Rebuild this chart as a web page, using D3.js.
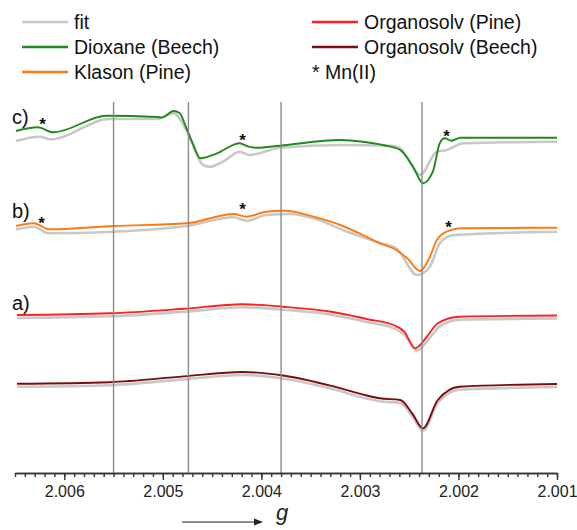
<!DOCTYPE html>
<html><head><meta charset="utf-8">
<script src="https://cdn.jsdelivr.net/npm/d3@7"></script>
<style>body{margin:0;background:#fff}svg{display:block}text{font-family:"Liberation Sans",Arial,sans-serif}</style>
</head><body>
<script>
// g-values (x) and relative EPR intensities (arbitrary units, stacked with offsets)
const dioxaneBeech = [[2.00649,344],[2.00627,347.7],[2.00611,342.7],[2.00557,359.3],[2.00506,358],[2.00501,357.5],[2.00489,364],[2.00483,362],[2.00476,346.7],[2.00469,330],[2.00462,316.7],[2.00445,321.7],[2.00422,331.7],[2.00413,328.3],[2.00405,327.3],[2.00381,329.3],[2.0032,335],[2.00297,333.3],[2.00269,328.3],[2.00259,325],[2.00246,308.3],[2.00236,291.7],[2.00226,303.3],[2.00219,331.7],[2.00214,336.7],[2.00207,334.3],[2.00198,337.3],[2.0010,337.3]];
const dioxaneFit = [[2.00649,334],[2.00625,338.3],[2.00614,335.7],[2.00554,356],[2.00506,356],[2.00489,361.7],[2.00476,345],[2.00459,310],[2.00452,308.3],[2.00439,313.3],[2.00422,323.3],[2.00412,320],[2.00381,327.3],[2.0032,330],[2.00269,329.3],[2.00259,326.7],[2.00239,300],[2.00222,323.3],[2.00212,325],[2.00195,331.7],[2.0010,333.3]];
const klasonPine = [[2.00649,249],[2.00631,251.7],[2.00621,247.7],[2.00616,245.7],[2.0055,249],[2.00476,251.7],[2.00428,261],[2.00415,258.3],[2.00395,263.3],[2.00376,264.3],[2.00347,258.3],[2.0032,250],[2.00297,240],[2.0028,231.7],[2.00263,225],[2.00252,216.7],[2.00239,204],[2.00229,218.3],[2.00222,235],[2.00212,243.3],[2.00198,246.7],[2.0010,247.3]];
const klasonFit = [[2.00649,245.7],[2.00631,248.3],[2.00616,241.7],[2.0055,243.3],[2.00476,249],[2.00428,257.7],[2.00415,254.3],[2.00395,260],[2.00371,261],[2.00347,256.7],[2.00313,243.3],[2.0028,232.3],[2.00263,226.7],[2.00242,200],[2.00229,208.3],[2.00219,231.7],[2.00205,240],[2.0010,243.3]];
const organosolvPine = [[2.00648,160],[2.00554,161.7],[2.00479,166.2],[2.00419,170.7],[2.00378,168.3],[2.00329,163.3],[2.00292,155.8],[2.00266,150],[2.00255,143.3],[2.00244,126.7],[2.00232,138.3],[2.00221,151.7],[2.00199,158.3],[2.0010,159.5]];
const organosolvPineFit = [[2.00648,157],[2.00554,158.7],[2.00479,163.2],[2.00419,167.7],[2.00378,165.3],[2.00329,160.3],[2.00292,152.8],[2.00266,147],[2.00255,140.5],[2.00242,124.5],[2.0023,136],[2.00219,148.7],[2.00199,155.3],[2.0010,156.5]];
const organosolvBeech = [[2.00648,91.2],[2.00554,92.8],[2.00479,98.6],[2.00419,103],[2.00378,99.5],[2.00329,89.2],[2.00292,79.2],[2.0028,76.7],[2.00259,75],[2.00247,61.7],[2.00236,46.7],[2.00221,75],[2.00199,88.3],[2.0010,91]];
const organosolvBeechFit = [[2.00648,88.2],[2.00554,89.8],[2.00479,95.6],[2.00419,100],[2.00378,96.5],[2.00329,86.2],[2.00292,76.2],[2.0028,73.7],[2.00259,72],[2.00247,58.7],[2.00236,44.5],[2.00221,72],[2.00199,85.3],[2.0010,88]];
const refLines = [2.0055, 2.00474, 2.0038, 2.00237];
const mnMarks = [[2.00622,357],[2.00419,341],[2.00212,345],[2.00623,257.5],[2.00419,272],[2.0021,253.5]];
const panelLabels = [["c)",358],["b)",264],["a)",172]];
const majorTicks = [2.006,2.005,2.004,2.003,2.002,2.001];
const legendItems = [["fit","#c8c8c8",0,0],["Dioxane (Beech)","#1e8a1e",0,1],["Klason (Pine)","#ff7a10",0,2],["Organosolv (Pine)","#ff1f1f",1,0],["Organosolv (Beech)","#7a0c0c",1,1]];

const W=577,H=530;
const svg=d3.select("body").append("svg").attr("width",W).attr("height",H);
const x=d3.scaleLinear().domain([2.0065,2.001]).range([15,557]);
const y=d3.scaleLinear().domain([0,375]).range([475,100]);
const line=d3.line().x(d=>x(d[0])).y(d=>y(d[1])).curve(d3.curveMonotoneX);

const fits=[dioxaneFit,klasonFit,organosolvPineFit,organosolvBeechFit];
fits.forEach(f=>svg.append("path").datum(f).attr("d",line).attr("fill","none").attr("stroke","#c8c8c8").attr("stroke-width",2.6));
const data=[[dioxaneBeech,"#1e8a1e"],[klasonPine,"#ff7a10"],[organosolvPine,"#ff1f1f"],[organosolvBeech,"#7a0c0c"]];
data.forEach(([d,c])=>svg.append("path").datum(d).attr("d",line).attr("fill","none").attr("stroke",c).attr("stroke-width",1.9));

const axisY=473;
svg.selectAll("line.ref").data(refLines).join("line").attr("class","ref")
  .attr("x1",d=>x(d)).attr("x2",d=>x(d)).attr("y1",102).attr("y2",axisY)
  .attr("stroke","#8a8a8a").attr("stroke-width",1.4);

svg.selectAll("text.mn").data(mnMarks).join("text").attr("class","mn")
  .attr("x",d=>x(d[0])).attr("y",d=>y(d[1])).attr("dy","0.7em").attr("text-anchor","middle")
  .attr("font-size",17).attr("font-weight","bold").attr("fill","#111").text("*");

svg.selectAll("text.pl").data(panelLabels).join("text").attr("class","pl")
  .attr("x",12).attr("y",d=>y(d[1])).attr("dy","0.35em").attr("font-size",20).attr("fill","#111").text(d=>d[0]);

const minor=d3.range(0,56).map(i=>+(2.0065-i*0.0001).toFixed(4));
const gMinor=svg.append("g").attr("transform",`translate(0,${axisY})`)
  .call(d3.axisBottom(x).tickValues(minor).tickSize(4).tickSizeOuter(0).tickFormat(""));
const gMajor=svg.append("g").attr("transform",`translate(0,${axisY})`)
  .call(d3.axisBottom(x).tickValues(majorTicks).tickSize(7).tickSizeOuter(0).tickPadding(6).tickFormat(d3.format(".3f")));
[gMinor,gMajor].forEach(g=>{g.selectAll("path,line").attr("stroke","#333").attr("stroke-width",1.4);});
gMajor.selectAll("text").attr("font-size",16).attr("fill","#222").attr("font-family","Liberation Sans, Arial, sans-serif");

svg.append("line").attr("x1",182).attr("x2",254).attr("y1",522).attr("y2",522).attr("stroke","#222").attr("stroke-width",1.2);
svg.append("path").attr("d","M254,518.5L263,522L254,525.5Z").attr("fill","#222");
svg.append("text").attr("x",276).attr("y",520).attr("font-family","Liberation Serif, serif").attr("font-style","italic").attr("font-size",22).attr("fill","#222").text("g");

const lg=svg.append("g");
const colX=[22,312], rowY=[22,47,72];
legendItems.forEach(([t,c,col,row])=>{
  lg.append("line").attr("x1",colX[col]).attr("x2",colX[col]+46).attr("y1",rowY[row]).attr("y2",rowY[row]).attr("stroke",c).attr("stroke-width",2.6);
  lg.append("text").attr("x",colX[col]+52).attr("y",rowY[row]).attr("dy","0.35em").attr("font-size",19.5).attr("fill","#111").text(t);
});
lg.append("text").attr("x",colX[1]).attr("y",rowY[2]).attr("dy","0.35em").attr("font-size",19.5).attr("fill","#111").text("* Mn(II)");
</script>
</body></html>
